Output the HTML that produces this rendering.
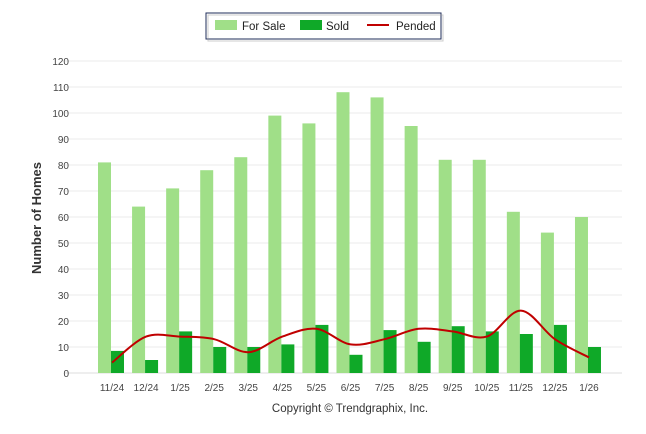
<!DOCTYPE html>
<html><head><meta charset="utf-8"><style>
body{margin:0;background:#fff;font-family:"Liberation Sans",sans-serif}
</style></head><body>
<svg id="c" width="646" height="434" style="display:block">
<g>
<rect x="206" y="13" width="235" height="26" fill="#fff" stroke="#1f2d5a" stroke-width="1"/>
<rect x="208" y="15" width="235" height="26" fill="none" stroke="#999" stroke-width="1" opacity="0.5"/>
<rect x="215" y="20" width="22" height="10" fill="#a0df88"/>
<text x="242" y="30" font-size="11.5" fill="#222">For Sale</text>
<rect x="300" y="20" width="22" height="10" fill="#0fa928"/>
<text x="326" y="30" font-size="11.5" fill="#222">Sold</text>
<line x1="367" y1="25" x2="389" y2="25" stroke="#c00000" stroke-width="2"/>
<text x="396" y="30" font-size="11.5" fill="#222">Pended</text>
</g>
<text transform="translate(41,218) rotate(-90)" text-anchor="middle" font-size="13" font-weight="bold" fill="#333">Number of Homes</text>
<text x="350" y="412" text-anchor="middle" font-size="11.5" fill="#333">Copyright © Trendgraphix, Inc.</text>
<g id="grid"></g><g id="bars"></g><g id="line"></g><g id="xl"></g>
</svg>
<script>
const categories=["11/24","12/24","1/25","2/25","3/25","4/25","5/25","6/25","7/25","8/25","9/25","10/25","11/25","12/25","1/26"];
const forSale=[81,64,71,78,83,99,96,108,106,95,82,82,62,54,60];
const sold=[8.5,5,16,10,10,11,18.5,7,16.5,12,18,16,15,18.5,10];
const pended=[4,14,14,13,8,14,17,11,13,17,16,14,24,13,6];
const yTicks=[0,10,20,30,40,50,60,70,80,90,100,110,120];
const NS="http://www.w3.org/2000/svg";
const y=v=>373-v*2.6;
const x=i=>112+i*34.07;
function mk(t,a,p){const e=document.createElementNS(NS,t);for(const k in a)e.setAttribute(k,a[k]);document.getElementById(p).appendChild(e);return e;}
yTicks.forEach(t=>{
 const l=mk('line',{x1:65,x2:622,y1:y(t),y2:y(t),stroke:t?'#ebebeb':'#ddd','stroke-width':1},'grid');
 
 
 const tx=mk('text',{x:69,y:y(t)+4,'text-anchor':'end','font-size':10,fill:'#444'},'grid');tx.textContent=t;
 
 
});
categories.forEach((c,i)=>{
 const b1=mk('rect',{x:x(i)-14,y:y(forSale[i]),width:13,height:forSale[i]*2.6,fill:'#a0df88'},'bars');
 
 
 const b2=mk('rect',{x:x(i)-1,y:y(sold[i]),width:13,height:sold[i]*2.6,fill:'#0fa928'},'bars');
 
 
 const t=mk('text',{x:x(i),y:391,'text-anchor':'middle','font-size':10,fill:'#444'},'xl');t.textContent=c;
 
 
});
const pts=pended.map((v,i)=>[x(i),y(v)]);
let d='M'+pts[0][0]+','+pts[0][1];
for(let i=0;i<pts.length-1;i++){
 const p0=pts[Math.max(i-1,0)],p1=pts[i],p2=pts[i+1],p3=pts[Math.min(i+2,pts.length-1)];
 const c1=[p1[0]+(p2[0]-p0[0])/6,p1[1]+(p2[1]-p0[1])/6],c2=[p2[0]-(p3[0]-p1[0])/6,p2[1]-(p3[1]-p1[1])/6];
 d+=` C${c1[0]},${c1[1]} ${c2[0]},${c2[1]} ${p2[0]},${p2[1]}`;
}
const ln=mk('path',{d:d,fill:'none',stroke:'#c00000','stroke-width':2},'line');


</script>
</body></html>
